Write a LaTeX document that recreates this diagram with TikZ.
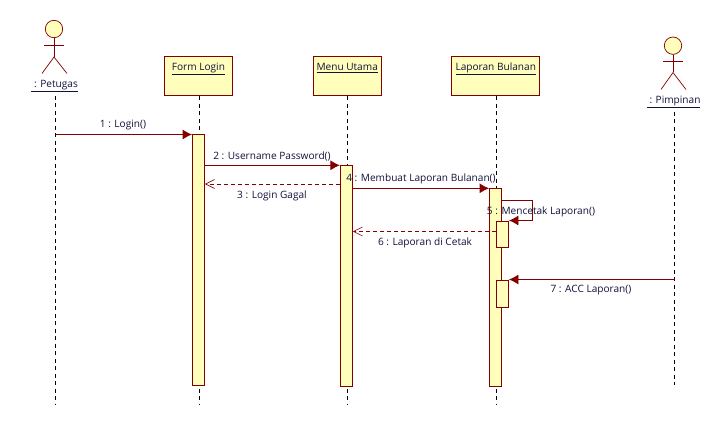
\documentclass[tikz,border=0pt]{standalone}
\usepackage{fontspec}
\setmainfont{Open Sans}
\usepackage{xcolor}
\usetikzlibrary{positioning, arrows.meta, calc}
\definecolor{umlline}{HTML}{840000}
\definecolor{umlfill}{HTML}{FFFFBB}
\definecolor{umltext}{HTML}{10103A}

\begin{document}
\begin{tikzpicture}[
  x=1pt, y=-1pt,
  font=\fontsize{10.1}{12}\selectfont,
  obj/.style={draw=umlline, fill=umlfill, line width=0.9pt, minimum height=39pt,
    text depth=25.5pt, text height=13.5pt, text=umltext, inner sep=0pt, anchor=north west},
  act/.style={draw=umlline, fill=umlfill, line width=0.9pt, minimum width=12pt,
    inner sep=0pt, anchor=north},
  head/.style={circle, draw=umlline, fill=umlfill, line width=0.7pt,
    minimum size=17.4pt, inner sep=0pt},
  limb/.style={draw=umlline, line width=0.7pt},
  lifeline/.style={draw=black, line width=0.9pt, dash pattern=on 4pt off 3.5pt},
  msg/.style={draw=umlline, line width=0.9pt, -{Latex[length=9.5pt,width=10pt]}},
  ret/.style={draw=umlline, line width=0.8pt, dash pattern=on 4pt off 3pt,
    -{Straight Barb[length=9pt,width=9pt,line width=0.6pt]}},
  lbl/.style={text=umltext, inner sep=0pt},
]
  \useasboundingbox (0,0) rectangle (728,425);

  % objects
  \node[obj, minimum width=68pt] (form) at (164,56.5) {\underline{Form Login}};
  \node[obj, minimum width=68.5pt] (menu) at (312.5,56.5) {\underline{Menu Utama}};
  \node[obj, minimum width=88pt] (lap) at (451.3,56.5) {\underline{Laporan Bulanan}};

  % actors
  \node[head] (petugas) at (54,29) {};
  \coordinate (petugaship) at (54,57);
  \draw[limb] (petugas.south) -- (petugaship);
  \draw[limb] (44,45) -- (64,45);
  \draw[limb] (42,73.5) -- (petugaship) -- (67,73.5);
  \node[lbl] (petugaslbl) at (54.5,86) {\underline{\hspace{3pt}: Petugas}};

  \node[head] (pimpinan) at (673,45.7) {};
  \coordinate (pimpinanhip) at (673,72.5);
  \draw[limb] (pimpinan.south) -- (pimpinanhip);
  \draw[limb] (663,61.5) -- (683,61.5);
  \draw[limb] (661,89.5) -- (pimpinanhip) -- (686,89.5);
  \node[lbl] (pimpinanlbl) at (673.5,102) {\underline{\hspace{3pt}: Pimpinan}};

  % lifelines
  \coordinate (petugasend) at (55.5,405);
  \coordinate (formend) at (199.5,404);
  \coordinate (menuend) at (347.5,404);
  \coordinate (lapend) at (496.5,404);
  \coordinate (pimpinanend) at (674.5,385);
  \draw[lifeline] (55.5,96) -- (petugasend);
  \draw[lifeline] (form.south -| formend) -- (formend);
  \draw[lifeline] (menu.south -| menuend) -- (menuend);
  \draw[lifeline] (lap.south -| lapend) -- (lapend);
  \draw[lifeline] (674.5,112) -- (pimpinanend);

  % activations
  \node[act, minimum height=250pt] (actform) at (198.5,134.5) {};
  \node[act, minimum height=220.7pt] (actmenu) at (346.3,165.3) {};
  \node[act, minimum height=197.7pt] (actlap) at (495.5,188.3) {};
  \node[act, minimum height=26pt] (actcetak) at (502.5,220.5) {};
  \node[act, minimum height=27pt] (actacc) at (502.5,279.5) {};

  % messages
  \draw[msg] (actform.north -| petugasend) -- (actform.north west);
  \draw[msg] (actmenu.north -| actform.east) -- (actmenu.north west);
  \coordinate (gagal) at (actmenu.west |- 0,184);
  \draw[ret] (gagal) -- (gagal -| actform.east);
  \draw[msg] (actlap.north -| actmenu.east) -- (actlap.north west);
  \coordinate (cetakout) at (actlap.east |- 0,200.5);
  \coordinate (cetakcorner) at (532.5,200.5);
  \draw[msg] (cetakout) -- (cetakcorner) -- (cetakcorner |- actcetak.north) -- (actcetak.north east);
  \coordinate (cetakret) at (actlap.center |- 0,231.5);
  \draw[ret] (cetakret) -- (cetakret -| actmenu.east);
  \draw[msg] (actacc.north -| pimpinanend) -- (actacc.north east);

  % labels
  \node[lbl] (m1) at (123,125.5) {1 : Login()};
  \node[lbl] (m2) at (272,156.5) {2 : Username Password()};
  \node[lbl] (m3) at (272,195.5) {3 : Login Gagal};
  \node[lbl] (m4) at (421,178.5) {4 : Membuat Laporan Bulanan()};
  \node[lbl] (m5) at (541,211.5) {5 : Mencetak Laporan()};
  \node[lbl] (m6) at (425,242.5) {6 : Laporan di Cetak};
  \node[lbl] (m7) at (591,290.5) {7 : ACC Laporan()};
\end{tikzpicture}
\end{document}
